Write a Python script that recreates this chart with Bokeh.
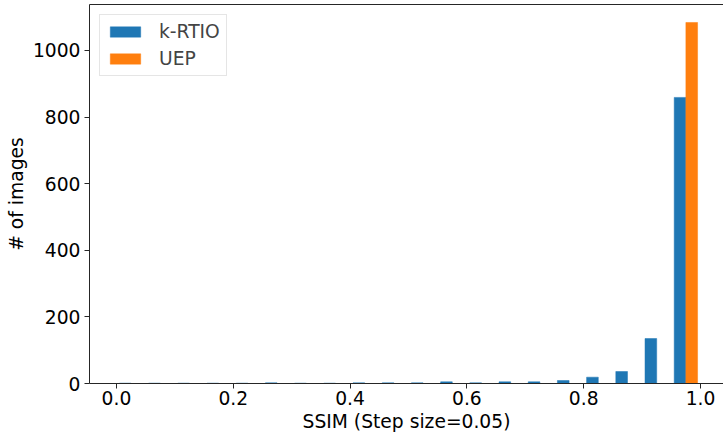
from bokeh.plotting import figure
from bokeh.models import FixedTicker, LinearAxis, Legend, LegendItem, Range1d
from bokeh.embed import file_html
from bokeh.resources import INLINE

# SSIM bins (step 0.05)
bin_starts = [0.00, 0.05, 0.10, 0.15, 0.20, 0.25, 0.30, 0.35, 0.40, 0.45,
              0.50, 0.55, 0.60, 0.65, 0.70, 0.75, 0.80, 0.85, 0.90, 0.95]
bin_step = 0.05
krtio = [1, 1, 1, 1, 1, 2, 1, 1, 2, 2, 2, 5, 2, 5, 5, 9, 19, 36, 135, 859]
uep = [0, 0, 0, 0, 0, 0, 0, 0, 0, 0, 0, 0, 0, 0, 0, 0, 0, 0, 0, 1084]
series_names = ["k-RTIO", "UEP"]
x_ticks = [0.0, 0.2, 0.4, 0.6, 0.8, 1.0]
y_ticks = [0, 200, 400, 600, 800, 1000]

BLUE = "#1f77b4"
ORANGE = "#ff7f0e"
FONT = "DejaVu Sans"
FS = "18.7px"
SPINE = "#262626"

p = figure(width=723, height=434, output_backend="svg", toolbar_location=None,
           x_range=Range1d(-0.0462, 1.0394), y_range=Range1d(0, 1138),
           min_border_left=89, min_border_right=0, min_border_top=4,
           min_border_bottom=51)
p.outline_line_color = None
p.grid.visible = False
p.background_fill_color = "white"
p.border_fill_color = "white"

bar_w = bin_step * 0.8 / 2
k_x = [b + bin_step / 2 - bar_w / 2 for b in bin_starts]
u_x = [b + bin_step / 2 + bar_w / 2 for b in bin_starts]

r1 = p.vbar(x=k_x, top=krtio, bottom=0, width=bar_w, fill_color=BLUE,
            line_color=BLUE, line_width=0.5)
r2 = p.vbar(x=u_x, top=uep, bottom=0, width=bar_w, fill_color=ORANGE,
            line_color=ORANGE, line_width=0.5)

for ax in (p.xaxis[0], p.yaxis[0]):
    ax.axis_line_color = SPINE
    ax.axis_line_width = 1
    ax.major_tick_line_color = SPINE
    ax.major_tick_out = 5
    ax.major_tick_in = 0
    ax.minor_tick_line_color = None
    ax.major_label_text_font = FONT
    ax.major_label_text_font_size = FS
    ax.major_label_text_color = "black"
    ax.axis_label_text_font = FONT
    ax.axis_label_text_font_size = FS
    ax.axis_label_text_font_style = "normal"
    ax.axis_label_text_color = "black"

p.xaxis.ticker = FixedTicker(ticks=x_ticks)
p.xaxis.major_label_overrides = {t: f"{t:.1f}" for t in x_ticks}
p.xaxis.axis_label = "SSIM (Step size=0.05)"
p.xaxis.major_label_standoff = 2
p.xaxis.axis_label_standoff = 3

p.yaxis.ticker = FixedTicker(ticks=y_ticks)
p.yaxis.axis_label = "# of images"
p.yaxis.major_label_standoff = 4
p.yaxis.axis_label_standoff = 3

top_ax = LinearAxis(axis_line_color=SPINE, axis_line_width=1,
                    major_tick_line_color=None, minor_tick_line_color=None,
                    major_label_text_font_size="0px", major_label_standoff=0,
                    major_tick_out=0, major_tick_in=0, axis_label_standoff=0)
top_ax.ticker = FixedTicker(ticks=[])
p.add_layout(top_ax, "above")

legend = Legend(items=[LegendItem(label=series_names[0], renderers=[r1]),
                       LegendItem(label=series_names[1], renderers=[r2])],
                location="top_left")
legend.label_text_font = FONT
legend.label_text_font_size = FS
legend.glyph_width = 38
legend.glyph_height = 13
legend.label_standoff = 15
legend.label_height = 20
legend.spacing = 6
legend.padding = 6
legend.margin = 10
legend.border_line_color = "#cccccc"
legend.border_line_width = 1
legend.background_fill_alpha = 0.8
p.add_layout(legend)

open("out.html", "w").write(file_html(p, INLINE))
